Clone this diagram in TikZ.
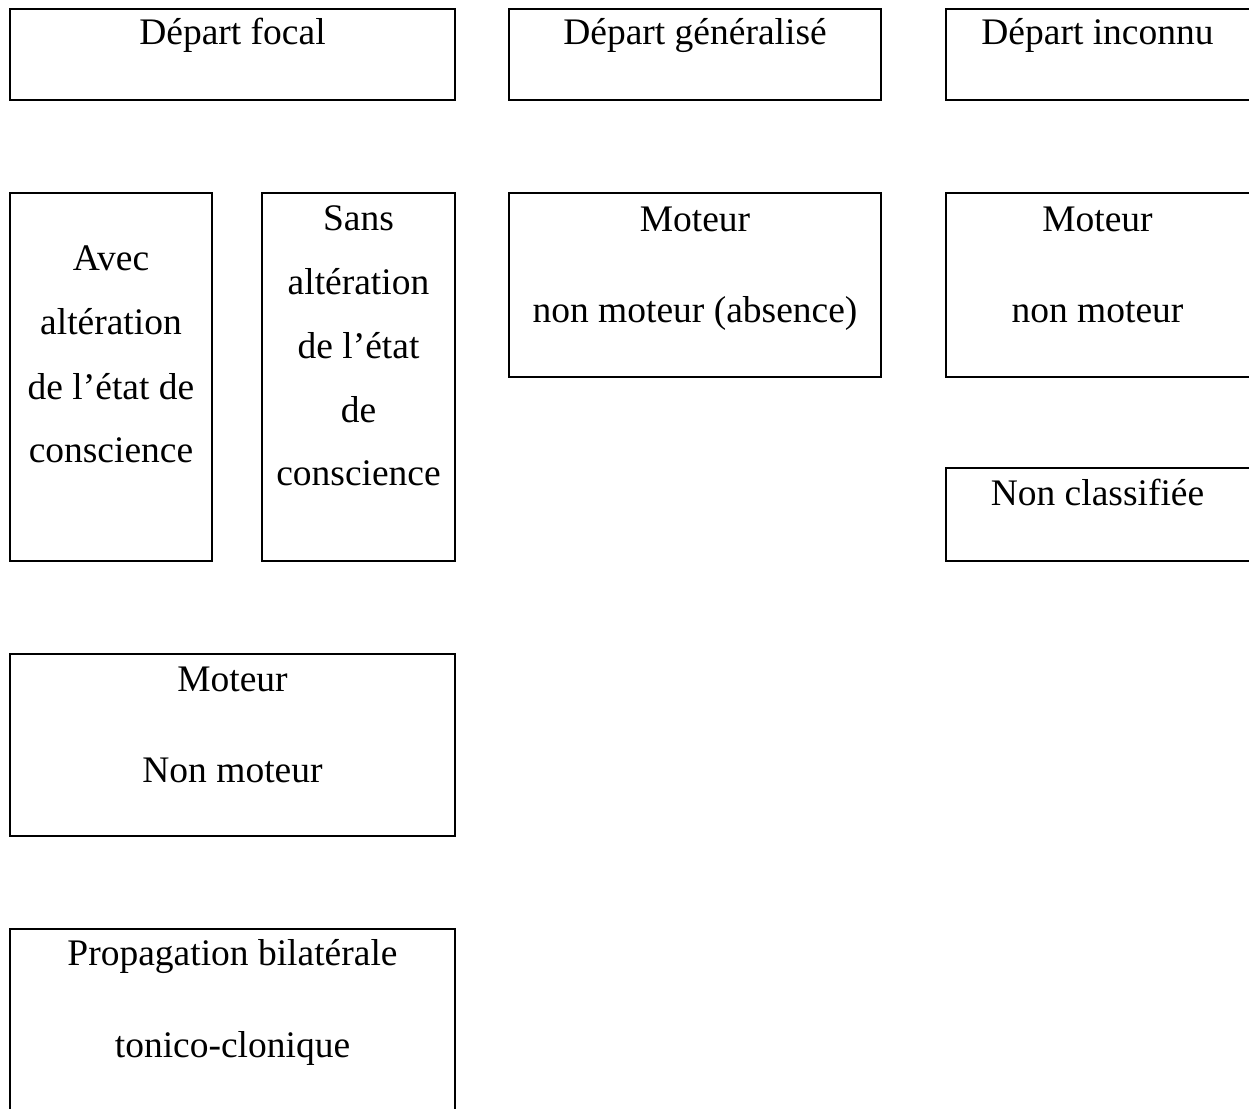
\documentclass[tikz,border=0pt]{standalone}
\usepackage{fontspec}
\setmainfont{Liberation Serif}
\begin{document}
\begin{tikzpicture}[x=1pt,y=-1pt,
  box/.style={draw, line width=2pt, rectangle, inner sep=0pt, outer sep=0pt, anchor=north west},
  txt/.style={anchor=base, inner sep=0pt, outer sep=0pt, yshift=-2pt, font=\fontsize{37.5}{45}\selectfont}]
\useasboundingbox (0,0) rectangle (1249,1108);
\clip (0,0) rectangle (1249,1108);
\fill[white] (0,0) rectangle (1249,1108);

% frames
\node[box, minimum width=445, minimum height=91]  (b1)  at (10,9)    {};
\node[box, minimum width=372, minimum height=91]  (b2)  at (509,9)   {};
\node[box, minimum width=304, minimum height=91]  (b3)  at (946,9)   {};
\node[box, minimum width=202, minimum height=368] (b4)  at (10,193)  {};
\node[box, minimum width=193, minimum height=368] (b5)  at (262,193) {};
\node[box, minimum width=372, minimum height=184] (b6)  at (509,193) {};
\node[box, minimum width=304, minimum height=184] (b7)  at (946,193) {};
\node[box, minimum width=304, minimum height=93]  (b8)  at (946,468) {};
\node[box, minimum width=445, minimum height=182] (b9)  at (10,654)  {};
\node[box, minimum width=445, minimum height=200] (b10) at (10,929)  {};

% labels, one node per line
\node[txt] (t1)  at (232.5,43) {Départ focal};
\node[txt] (t2)  at (695,43)   {Départ généralisé};
\node[txt] (t3)  at (1097.5,43) {Départ inconnu};

\node[txt] (t4a) at (111,268) {Avec};
\node[txt] (t4b) at (111,332) {altération};
\node[txt] (t4c) at (111,397) {de l’état de};
\node[txt] (t4d) at (111,460) {conscience};

\node[txt] (t5a) at (358.5,228) {Sans};
\node[txt] (t5b) at (358.5,292) {altération};
\node[txt] (t5c) at (358.5,356) {de l’état};
\node[txt] (t5d) at (358.5,420) {de};
\node[txt] (t5e) at (358.5,483) {conscience};

\node[txt] (t6a) at (695,229) {Moteur};
\node[txt] (t6b) at (695,320) {non moteur (absence)};

\node[txt] (t7a) at (1097.5,229) {Moteur};
\node[txt] (t7b) at (1097.5,320) {non moteur};

\node[txt] (t8)  at (1097.5,503) {Non classifiée};

\node[txt] (t9a) at (232.5,689) {Moteur};
\node[txt] (t9b) at (232.5,780) {Non moteur};

\node[txt] (t10a) at (232.5,963)  {Propagation bilatérale};
\node[txt] (t10b) at (232.5,1055) {tonico-clonique};
\end{tikzpicture}
\end{document}
